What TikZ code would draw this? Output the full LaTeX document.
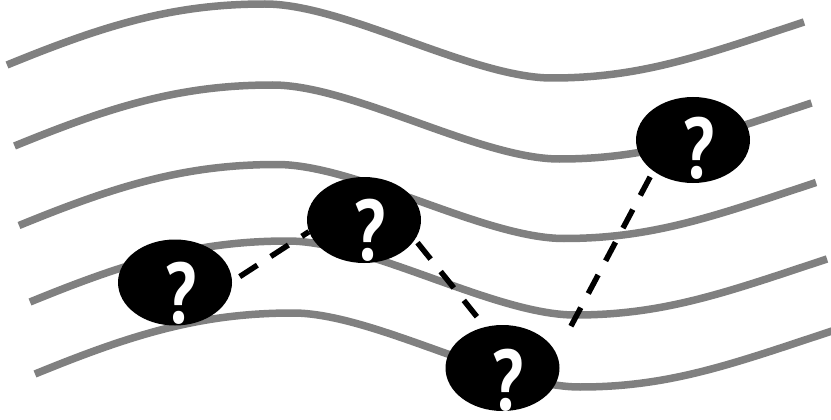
\documentclass[tikz,border=0pt]{standalone}
\usepackage{fontspec}
\newfontfamily\qfont{PT Sans}
\usetikzlibrary{shapes.geometric}
\definecolor{wavegray}{RGB}{128,128,128}
\newcommand\wavepath[2]{%
  \draw[wave, shift={(#1,#2)}] (7,65) .. controls (107,24) and (175,4) .. (265,4)
     .. controls (345,4) and (472,78) .. (552,78)
     .. controls (642,78) and (704,55) .. (804,22);}
\begin{document}
\begin{tikzpicture}[x=1pt,y=-1pt,
  wave/.style={draw=wavegray, line width=7.5pt},
  qnode/.style={ellipse, fill=black, draw=none, minimum width=114pt, minimum height=86pt, inner sep=0pt},
  qmark/.style={text=white, font=\qfont\bfseries\fontsize{86}{86}\selectfont, anchor=base, inner sep=0pt},
  conn/.style={draw=black, line width=5.5pt, dash pattern=on 21pt off 16pt}]
\useasboundingbox (0,0) rectangle (831,420);
% wavy lines
\wavepath{0}{0}
\wavepath{7.5}{81}
\wavepath{12}{160.5}
\wavepath{23}{237}
\wavepath{28}{309}
% ellipses
\node[qnode] (q1) at (175,282.5) {};
\node[qnode] (q2) at (364,220) {};
\node[qnode] (q3) at (693,140) {};
\node[qnode] (q4) at (502.5,368) {};
% question marks
\node[qmark] (m1) at ([shift={(6,40.5)}]q1.center) {\scalebox{0.8}[1]{?}};
\node[qmark] (m2) at ([shift={(6,40)}]q2.center) {\scalebox{0.8}[1]{?}};
\node[qmark] (m3) at ([shift={(6,38)}]q3.center) {\scalebox{0.8}[1]{?}};
\node[qmark] (m4) at ([shift={(6,42)}]q4.center) {\scalebox{0.8}[1]{?}};
% connectors
\draw[conn, shorten <=9pt] (q1.1) -- (q2.-168);
\draw[conn, shorten <=4pt, shorten >=13pt] (q2.-21) -- (q4.113);
\draw[conn, shorten <=31pt, shorten >=5pt] (q4.15) -- (q3.-142);
\end{tikzpicture}
\end{document}
